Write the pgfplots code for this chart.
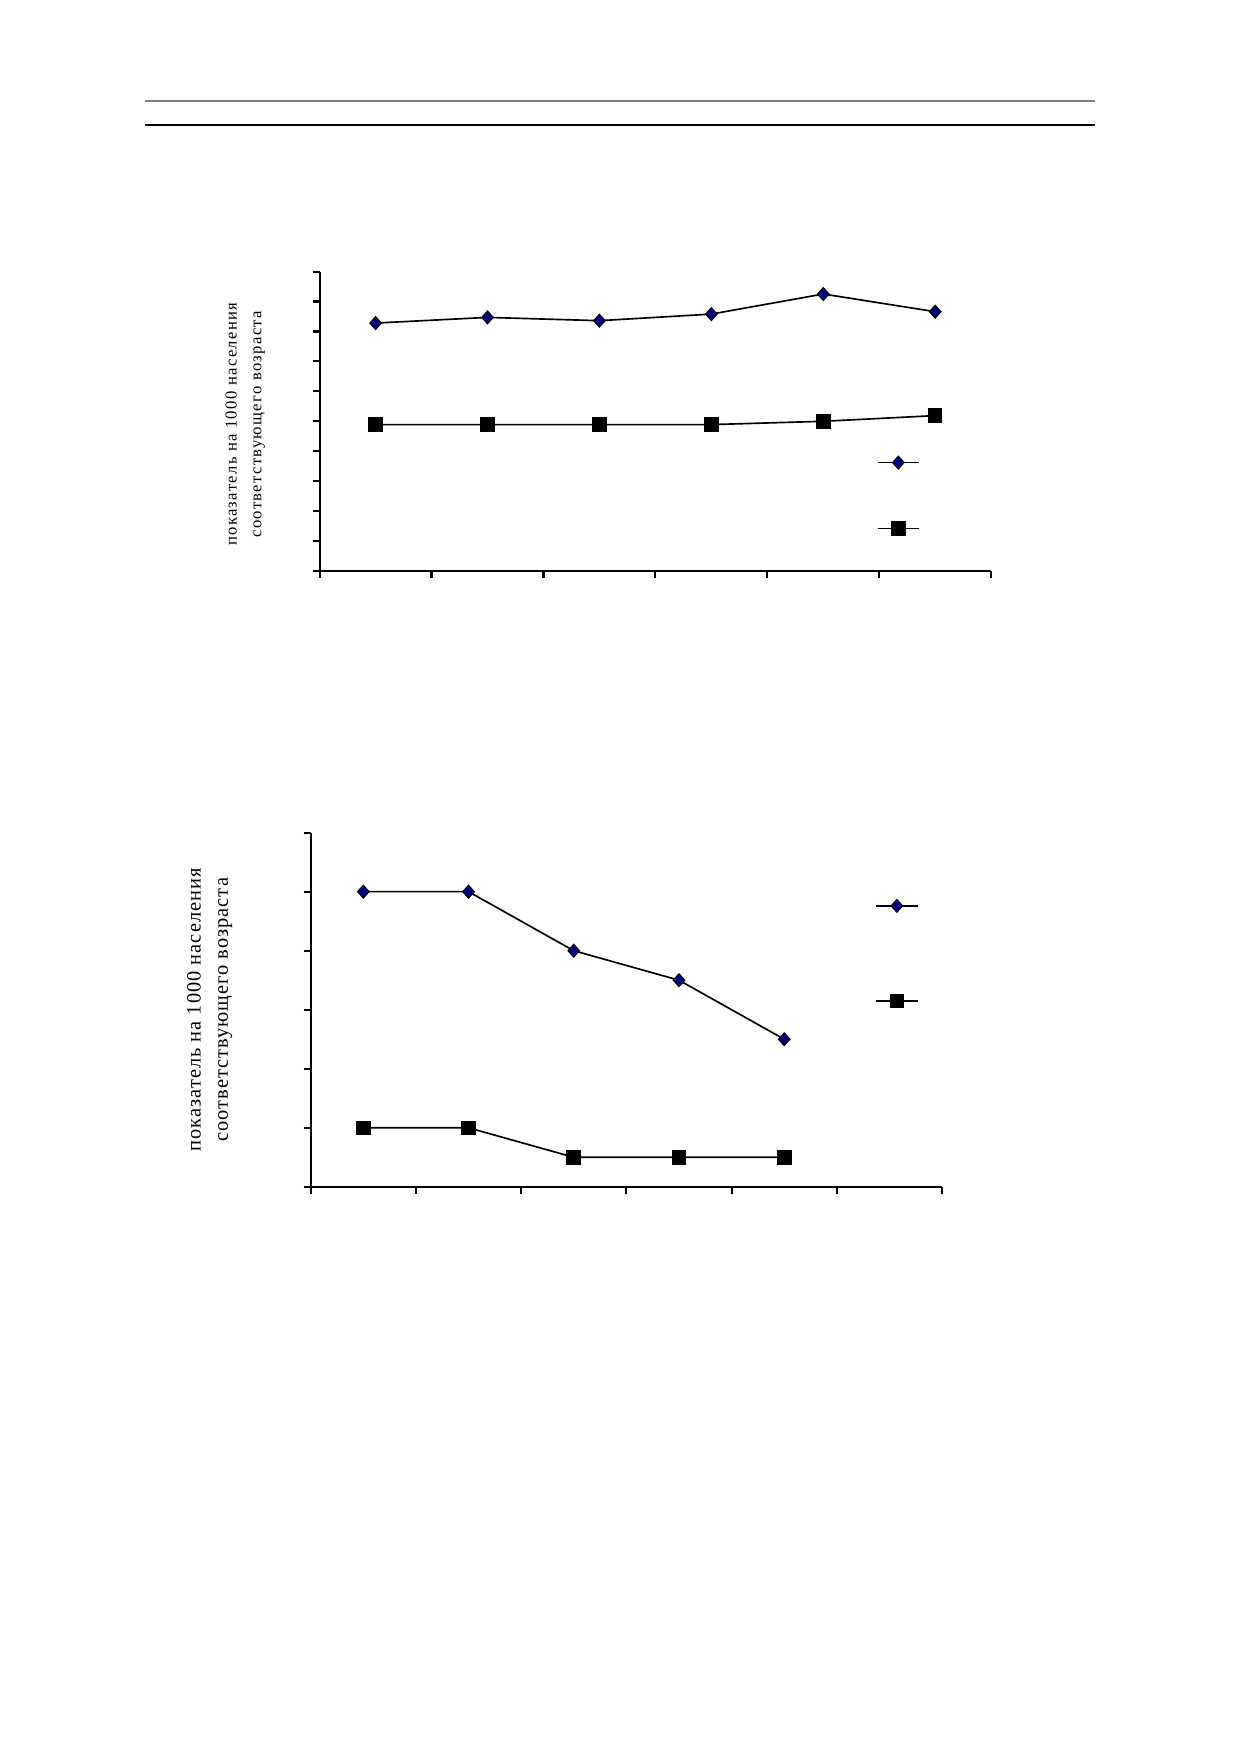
\documentclass[border=0pt]{standalone}
\usepackage{fontspec}
\setmainfont{Liberation Serif}
\newfontfamily\spacedA[LetterSpace=8]{Liberation Serif}
\newfontfamily\spacedB[LetterSpace=5]{Liberation Serif}
\usepackage{pgfplots}
\pgfplotsset{compat=1.18}
\definecolor{navymark}{HTML}{000080}
\pgfplotstableread{
x s1 s2
0.5 8.28 4.89
1.5 8.47 4.89
2.5 8.36 4.89
3.5 8.58 4.89
4.5 9.25 5.00
5.5 8.66 5.19
}\topdata
\pgfplotstableread{
x s1 s2
0.5 5.0 1.0
1.5 5.0 1.0
2.5 4.0 0.5
3.5 3.5 0.5
4.5 2.5 0.5
}\botdata
\begin{document}
\begin{tikzpicture}
\path[use as bounding box] (0pt,0pt) rectangle (595.28pt,-841.89pt);
\draw[gray, line width=1pt] (69.81pt,-48.33pt) -- (526.3pt,-48.33pt);
\draw[black, line width=0.7pt] (69.81pt,-60.14pt) -- (526.3pt,-60.14pt);
\pgfplotsset{
  myaxis/.style={
    scale only axis,
    axis x line*=bottom, axis y line*=left,
    axis line style={-, line width=1pt},
    every tick/.style={black, line width=1pt},
    tick align=outside,
    major tick length=3.3pt,
    xticklabels={}, yticklabels={},
    xmin=0, ymin=0,
    legend cell align=left,
    legend image code/.code={\draw[mark repeat=2,mark phase=2,##1] plot coordinates {(0cm,0cm) (0.35cm,0cm) (0.7cm,0cm)};},
  },
  s1/.style={black, line width=0.8pt, mark=diamond*, mark size=3.1pt, mark options={fill=navymark, draw=black, line width=0.5pt, xscale=1.2}},
  s2/.style={black, line width=0.8pt, mark=square*, mark size=3.1pt, mark options={fill=black, draw=black}},
}
\begin{axis}[myaxis,
  at={(153.58pt,-274.4pt)}, anchor=south west,
  width=322.7pt, height=143.9pt,
  xmax=6, ymax=10,
  xtick={0,...,6}, ytick={0,...,10},
  ylabel={показатель на 1000 населения\\соответствующего возраста},
  ylabel style={align=center, font=\spacedA\fontsize{8}{11.8}\selectfont, at={(axis description cs:-0.1107,0.49)}, anchor=center},
  legend style={draw=none, fill=none, at={(axis description cs:0.868,0.252)}, anchor=center, row sep=25.5pt, inner sep=0pt},
]
\addplot[s1] table[x=x, y=s1] {\topdata};
\addlegendentry{\mbox{}}
\addplot[s2] table[x=x, y=s2] {\topdata};
\addlegendentry{\mbox{}}
\end{axis}
\begin{axis}[myaxis,
  at={(149.29pt,-570.3pt)}, anchor=south west,
  width=303.4pt, height=170.2pt,
  xmax=6, ymax=6,
  xtick={0,...,6}, ytick={0,...,6},
  ylabel={показатель на 1000 населения\\соответствующего возраста},
  ylabel style={align=center, font=\spacedB\fontsize{9.8}{13}\selectfont, at={(axis description cs:-0.160,0.5)}, anchor=center},
  legend style={draw=none, fill=none, at={(axis description cs:0.935,0.659)}, anchor=center, row sep=39.5pt, inner sep=0pt},
]
\addplot[s1] table[x=x, y=s1] {\botdata};
\addlegendentry{\mbox{}}
\addplot[s2] table[x=x, y=s2] {\botdata};
\addlegendentry{\mbox{}}
\end{axis}
\end{tikzpicture}
\end{document}
